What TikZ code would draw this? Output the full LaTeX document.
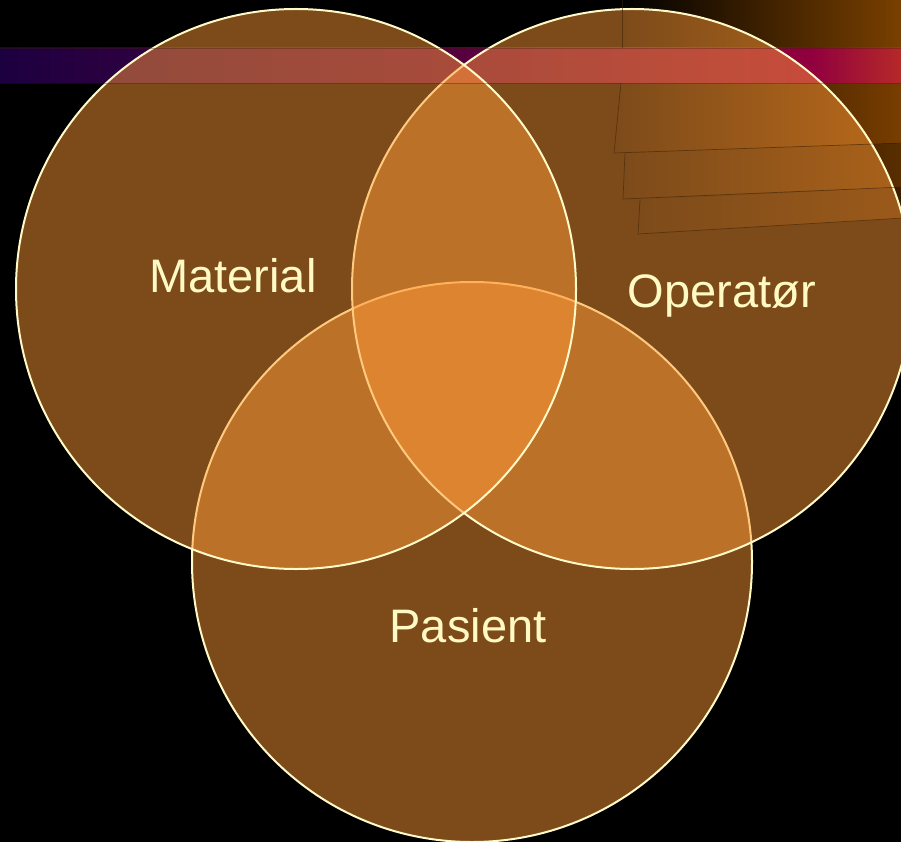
\documentclass[tikz,border=0pt]{standalone}
\usepackage{fontspec}
\setmainfont{Liberation Sans}

% palette
\definecolor{vennfill}{RGB}{255,153,55}
\definecolor{rimcol}{RGB}{255,250,200}
\definecolor{labelcol}{RGB}{255,250,195}
\definecolor{edgebrown}{RGB}{60,32,5}
\definecolor{barA}{RGB}{28,0,64}
\definecolor{barB}{RGB}{85,0,64}
\definecolor{barC}{RGB}{130,5,62}
\definecolor{barD}{RGB}{145,0,62}
\definecolor{barE}{RGB}{182,42,40}
\definecolor{plateA}{RGB}{122,64,0}
\definecolor{plateB}{RGB}{122,62,0}
\definecolor{plateC}{RGB}{90,46,0}
\definecolor{plateD}{RGB}{60,30,0}

% stripe across the top: indigo through magenta to crimson
\pgfdeclarehorizontalshading{barshade}{100bp}{color(0bp)=(barA); color(25bp)=(barA);
  color(50bp)=(barB); color(65bp)=(barC); color(70bp)=(barD); color(75bp)=(barE);
  color(100bp)=(barE)}

\tikzset{
  venn/.style={circle, minimum size=560pt, inner sep=0pt,
    fill=vennfill, fill opacity=0.49, draw=rimcol, draw opacity=1, line width=2pt},
  lbl/.style={text=labelcol, font=\fontsize{47}{56}\selectfont, inner sep=0pt, anchor=base},
  plate/.style={left color=black},
  plateedge/.style={draw=edgebrown, draw opacity=0.55, line width=0.7pt},
}

\begin{document}
\begin{tikzpicture}[x=1pt, y=-1pt]
  % page background
  \fill[black] (0,0) rectangle (901,842);
  \useasboundingbox (0,0) rectangle (901,842);

  % decorative plates in the upper right corner
  \path[plate, right color=plateA] (622,-2) -- (903,-2) -- (903,48) -- (622,48) -- cycle;
  \path[plate, right color=plateD] (640,200) -- (903,187) -- (903,218) -- (638,234) -- cycle;
  \path[plate, right color=plateC] (625,153) -- (903,143) -- (903,187) -- (623,199) -- cycle;
  \path[plate, right color=plateB] (621,83) -- (903,83) -- (903,143) -- (614,153) -- cycle;

  % horizontal stripe
  \path[shading=barshade] (-2,48) rectangle (903,83);

  % the three sets
  \node[venn] (pasient) at (472,562) {};
  \node[venn] (operator) at (632,289) {};
  \node[venn] (material) at (296,289) {};

  % thin edges of the plates and the stripe
  \draw[plateedge] (622,-2) -- (622,48);
  \draw[plateedge] (621,83) -- (614,153) -- (903,143);
  \draw[plateedge] (625,153) -- (623,199) -- (903,187);
  \draw[plateedge] (640,200) -- (638,234) -- (903,218);
  \draw[plateedge, draw opacity=0.35] (-2,48) -- (903,48) (-2,83) -- (903,83);

  % set labels
  \node[lbl] (tmaterial) at (233,292) {Material};
  \node[lbl] (toperator) at (722,307) {Operatør};
  \node[lbl] (tpasient) at (468,642) {Pasient};
\end{tikzpicture}
\end{document}
